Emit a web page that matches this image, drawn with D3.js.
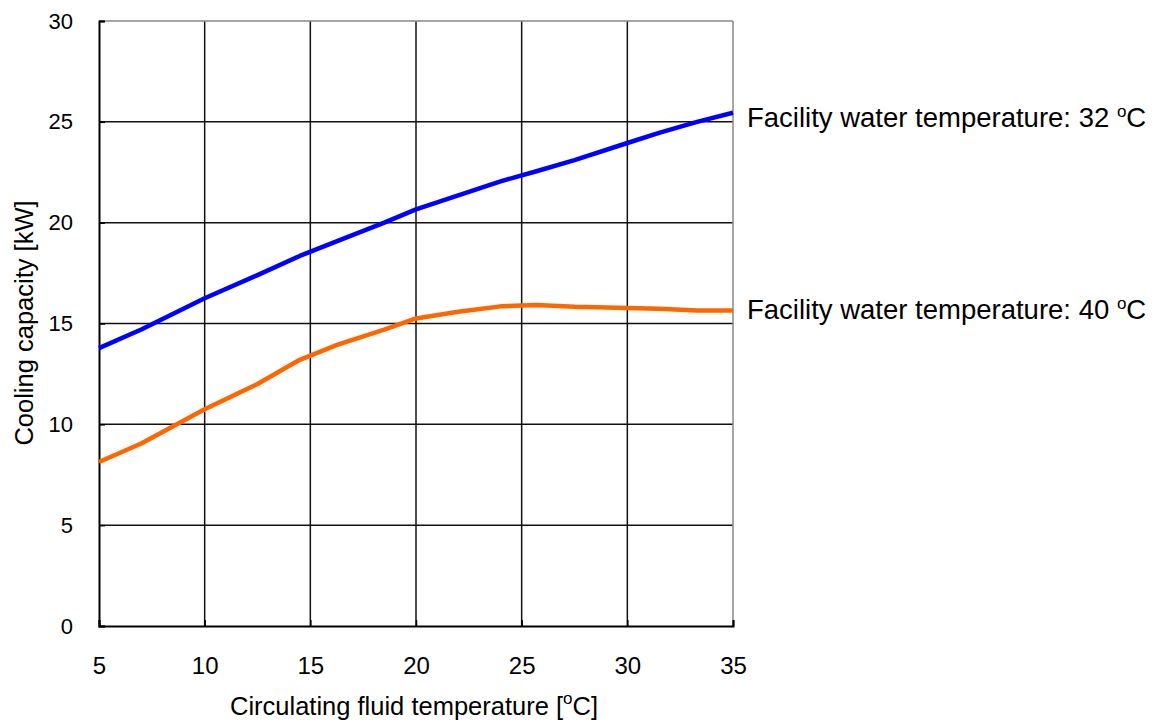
<!DOCTYPE html>
<html><head><meta charset="utf-8">
<script src="https://cdn.jsdelivr.net/npm/d3@7"></script>
<style>body{margin:0;background:#fff;} svg{display:block;font-family:Arial,"Liberation Sans",sans-serif;}</style>
</head><body>
<svg id="c" width="1155" height="726"></svg>
<script>
const xTicks = [5,10,15,20,25,30,35];
const yTicks = [0,5,10,15,20,25,30];
const xs32 = [5,7,10,12.5,14.5,16.3,18.5,20,22,24,25.7,27.5,30,31.5,33.3,35];
const ys32 = [13.78,14.7,16.25,17.4,18.35,19.1,20.0,20.66,21.35,22.05,22.55,23.1,23.95,24.45,25.0,25.45];
const xs40 = [5,7,10,12.5,14.5,16.3,18.5,20,22,24,25.7,27.5,30,31.5,33.3,35];
const ys40 = [8.13,9.05,10.75,12.0,13.2,13.95,14.7,15.25,15.58,15.85,15.92,15.83,15.77,15.73,15.64,15.64];
const seriesNames = ["Facility water temperature: 32 ", "Facility water temperature: 40 "];
const labelAnchors = [24.76, 15.2];
const seriesColors = ["#0000ff", "#ff6600"];

const svg = d3.select("#c");
const L=99, R=733, T=21, B=626;
const x = d3.scaleLinear().domain([5,35]).range([L,R]);
const y = d3.scaleLinear().domain([0,30]).range([B,T]);
const FF = "Arial, 'Liberation Sans', sans-serif";

// grid
svg.append("g").selectAll("line").data(xTicks.slice(1,-1)).join("line")
  .attr("x1",d=>x(d)).attr("x2",d=>x(d)).attr("y1",T).attr("y2",B)
  .attr("stroke","#111").attr("stroke-width",1.5);
svg.append("g").selectAll("line").data(yTicks.slice(1,-1)).join("line")
  .attr("x1",L).attr("x2",R).attr("y1",d=>y(d)).attr("y2",d=>y(d))
  .attr("stroke","#111").attr("stroke-width",1.5);
svg.append("line").attr("x1",L).attr("x2",R).attr("y1",T).attr("y2",T).attr("stroke","#888").attr("stroke-width",1.5);
svg.append("line").attr("x1",R).attr("x2",R).attr("y1",T).attr("y2",B).attr("stroke","#888").attr("stroke-width",1.5);

// axes
const xAxis = svg.append("g").attr("transform",`translate(0,${B})`)
  .call(d3.axisBottom(x).tickValues(xTicks).tickSize(-6).tickPadding(31).tickFormat(d3.format("d")));
const yAxis = svg.append("g").attr("transform",`translate(${L},0)`)
  .call(d3.axisLeft(y).tickValues(yTicks).tickSize(-6).tickPadding(26).tickFormat(d3.format("d")));
[xAxis,yAxis].forEach(a=>{
  a.attr("font-family",FF);
  a.select(".domain").attr("stroke","#000").attr("stroke-width",2);
  a.selectAll(".tick line").attr("stroke","#000").attr("stroke-width",1.5);
  a.selectAll("text").attr("fill","#000");
});
xAxis.attr("font-size",24);
yAxis.attr("font-size",22);

// lines
const line = d3.line().x(d=>x(d[0])).y(d=>y(d[1]));
const data = [d3.zip(xs32,ys32), d3.zip(xs40,ys40)];
svg.append("g").selectAll("path").data(data).join("path")
  .attr("d",line).attr("fill","none").attr("stroke",(d,i)=>seriesColors[i])
  .attr("stroke-width",4.5).attr("stroke-linejoin","round");

// labels
labelAnchors.forEach((v,i)=>{
  const t = svg.append("text").attr("x",R+14).attr("y",y(v))
    .attr("font-size",27.5).attr("fill","#000");
  t.append("tspan").text(seriesNames[i]);
  t.append("tspan").attr("font-size",17).attr("dy",-10).text("o");
  t.append("tspan").attr("dy",10).text("C");
});

// axis titles
const xt = svg.append("text").attr("x",414).attr("y",715).attr("text-anchor","middle").attr("font-size",25.5).attr("fill","#000");
xt.append("tspan").text("Circulating fluid temperature [");
xt.append("tspan").attr("font-size",17).attr("dy",-11).text("o");
xt.append("tspan").attr("dy",11).text("C]");
svg.append("text").attr("transform",`translate(33,323) rotate(-90)`)
  .attr("text-anchor","middle").attr("font-size",25.5).attr("fill","#000").text("Cooling capacity [kW]");
</script>
</body></html>
